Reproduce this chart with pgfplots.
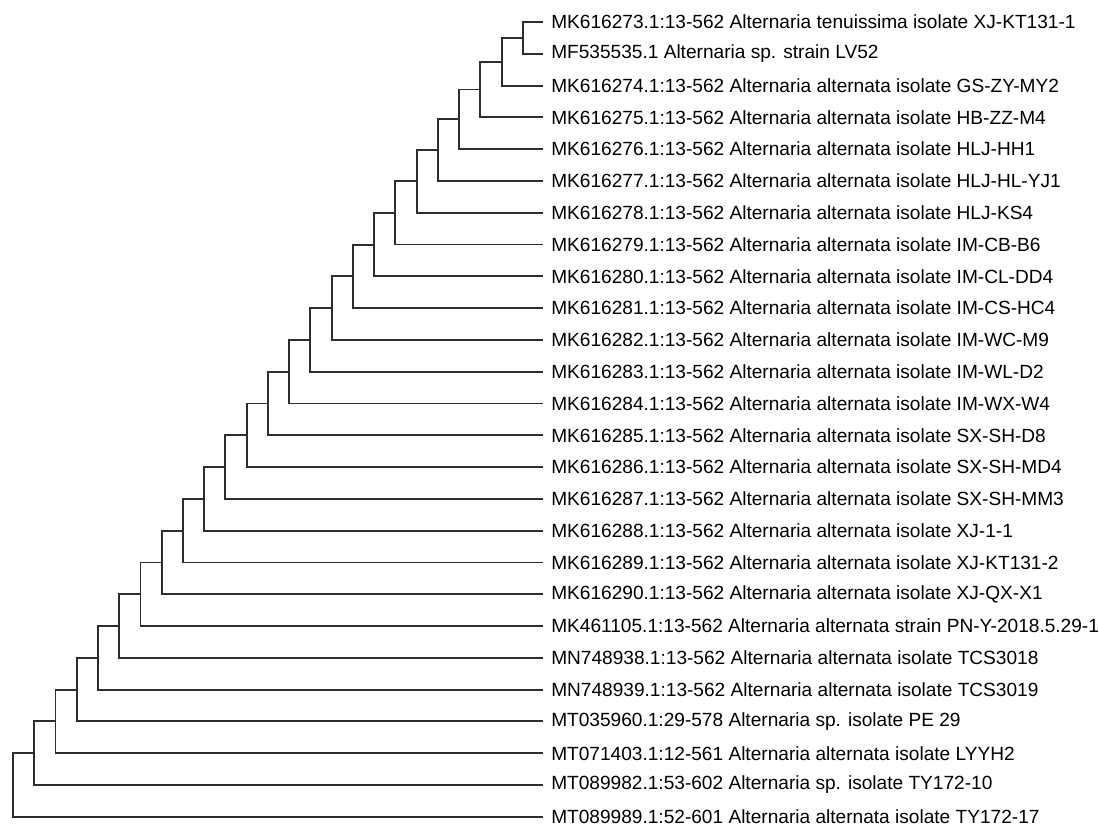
\documentclass[border=0pt]{standalone}
\usepackage{pgfplots}
\pgfplotsset{compat=1.18}
\usepackage{fontspec}
\setmainfont{Liberation Sans}
\begin{document}
\begin{tikzpicture}
\begin{axis}[
  width=549.5pt, height=413.5pt, scale only axis,
  xmin=0, xmax=1099, ymin=0.3082, ymax=26.3145,
  y dir=reverse,
  axis line style={draw=none},
  xtick=\empty, ytick=\empty,
  clip=false,
  unbounded coords=jump,
]
\addplot[black!82, line width=0.95pt, mark=none, line join=miter] coordinates {
(543,1)(523,1)(523,2)(543,2) (nan,nan)
(523,1.5)(501.75,1.5)(501.75,3)(543,3) (nan,nan)
(501.75,2.25)(480.5,2.25)(480.5,4)(543,4) (nan,nan)
(480.5,3.125)(459.25,3.125)(459.25,5)(543,5) (nan,nan)
(459.25,4.0625)(438,4.0625)(438,6)(543,6) (nan,nan)
(438,5.03125)(416.75,5.03125)(416.75,7)(543,7) (nan,nan)
(416.75,6.0156)(395.5,6.0156)(395.5,8)(543,8) (nan,nan)
(395.5,7.0078)(374.25,7.0078)(374.25,9)(543,9) (nan,nan)
(374.25,8.0039)(353,8.0039)(353,10)(543,10) (nan,nan)
(353,9.002)(331.75,9.002)(331.75,11)(543,11) (nan,nan)
(331.75,10.001)(310.5,10.001)(310.5,12)(543,12) (nan,nan)
(310.5,11.0005)(289.25,11.0005)(289.25,13)(543,13) (nan,nan)
(289.25,12.0002)(268,12.0002)(268,14)(543,14) (nan,nan)
(268,13)(246.75,13)(246.75,15)(543,15) (nan,nan)
(246.75,14)(225.5,14)(225.5,16)(543,16) (nan,nan)
(225.5,15)(204.25,15)(204.25,17)(543,17) (nan,nan)
(204.25,16)(183,16)(183,18)(543,18) (nan,nan)
(183,17)(161.75,17)(161.75,19)(543,19) (nan,nan)
(161.75,18)(140.5,18)(140.5,20)(543,20) (nan,nan)
(140.5,19)(119.25,19)(119.25,21)(543,21) (nan,nan)
(119.25,20)(98,20)(98,22)(543,22) (nan,nan)
(98,21)(76.75,21)(76.75,23)(543,23) (nan,nan)
(76.75,22)(55.5,22)(55.5,24)(543,24) (nan,nan)
(55.5,23)(34.25,23)(34.25,25)(543,25) (nan,nan)
(34.25,24)(13,24)(13,26)(543,26)
};
\addplot[draw=none, mark=none, point meta=explicit symbolic,
  nodes near coords,
  nodes near coords style={anchor=west, inner sep=0pt, xshift=4pt, text=black,
    font=\fontsize{9.55}{11}\selectfont}]
coordinates {
(543,1) [MK616273.1:13-562 Alternaria tenuissima isolate XJ-KT131-1]
(543,2) [MF535535.1 Alternaria sp. strain LV52]
(543,3) [MK616274.1:13-562 Alternaria alternata isolate GS-ZY-MY2]
(543,4) [MK616275.1:13-562 Alternaria alternata isolate HB-ZZ-M4]
(543,5) [MK616276.1:13-562 Alternaria alternata isolate HLJ-HH1]
(543,6) [MK616277.1:13-562 Alternaria alternata isolate HLJ-HL-YJ1]
(543,7) [MK616278.1:13-562 Alternaria alternata isolate HLJ-KS4]
(543,8) [MK616279.1:13-562 Alternaria alternata isolate IM-CB-B6]
(543,9) [MK616280.1:13-562 Alternaria alternata isolate IM-CL-DD4]
(543,10) [MK616281.1:13-562 Alternaria alternata isolate IM-CS-HC4]
(543,11) [MK616282.1:13-562 Alternaria alternata isolate IM-WC-M9]
(543,12) [MK616283.1:13-562 Alternaria alternata isolate IM-WL-D2]
(543,13) [MK616284.1:13-562 Alternaria alternata isolate IM-WX-W4]
(543,14) [MK616285.1:13-562 Alternaria alternata isolate SX-SH-D8]
(543,15) [MK616286.1:13-562 Alternaria alternata isolate SX-SH-MD4]
(543,16) [MK616287.1:13-562 Alternaria alternata isolate SX-SH-MM3]
(543,17) [MK616288.1:13-562 Alternaria alternata isolate XJ-1-1]
(543,18) [MK616289.1:13-562 Alternaria alternata isolate XJ-KT131-2]
(543,19) [MK616290.1:13-562 Alternaria alternata isolate XJ-QX-X1]
(543,20) [MK461105.1:13-562 Alternaria alternata strain PN-Y-2018.5.29-1]
(543,21) [MN748938.1:13-562 Alternaria alternata isolate TCS3018]
(543,22) [MN748939.1:13-562 Alternaria alternata isolate TCS3019]
(543,23) [MT035960.1:29-578 Alternaria sp. isolate PE 29]
(543,24) [MT071403.1:12-561 Alternaria alternata isolate LYYH2]
(543,25) [MT089982.1:53-602 Alternaria sp. isolate TY172-10]
(543,26) [MT089989.1:52-601 Alternaria alternata isolate TY172-17]
};
\end{axis}
\end{tikzpicture}
\end{document}
